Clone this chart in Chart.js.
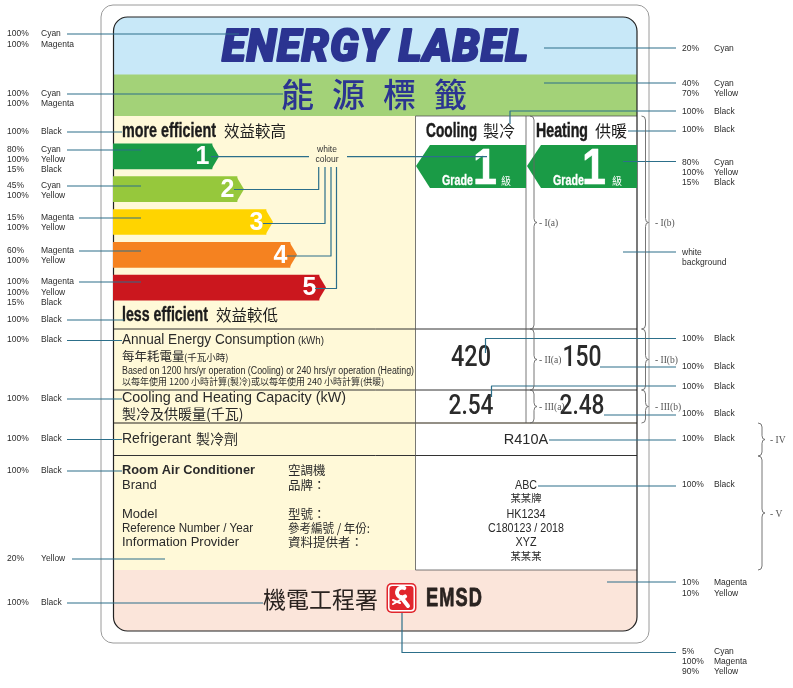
<!DOCTYPE html>
<html>
<head>
<meta charset="utf-8">
<title>Energy Label</title>
<script src="https://cdn.jsdelivr.net/npm/chart.js@4"></script>
<style>
  html, body { margin: 0; padding: 0; background: #fff; }
  #wrap { width: 793px; height: 688px; }
</style>
</head>
<body>
<div id="wrap"><canvas id="label" width="793" height="688"></canvas></div>
<script>
// grade arrows on the label
const grades = ['1', '2', '3', '4', '5'];
const gradeLengths = [99, 124, 153, 177, 206];
const gradeColours = ['#1a9b46', '#96c83c', '#ffd400', '#f58220', '#cb171e'];

// figures printed on the label
const consumption = ['420', '150'];
const capacity = ['2.54', '2.48'];
const refrigerant = 'R410A';
const infoEn = ['Brand', 'Model', 'Reference Number / Year', 'Information Provider'];
const infoZh = ['品牌：', '型號：', '參考編號 / 年份:', '資料提供者：'];
const infoValues = ['ABC', '某某牌', 'HK1234', 'C180123 / 2018', 'XYZ', '某某某'];
const infoWidths = [22, 31, 39, 76, 21, 31];

// colour callouts: [y, percent, ink] down each margin
const leftNotes = [
  [34, '100%', 'Cyan'], [44.5, '100%', 'Magenta'],
  [94, '100%', 'Cyan'], [104, '100%', 'Magenta'],
  [132, '100%', 'Black'],
  [150, '80%', 'Cyan'], [160, '100%', 'Yellow'], [170, '15%', 'Black'],
  [186, '45%', 'Cyan'], [196, '100%', 'Yellow'],
  [218, '15%', 'Magenta'], [228, '100%', 'Yellow'],
  [251, '60%', 'Magenta'], [261, '100%', 'Yellow'],
  [282, '100%', 'Magenta'], [293, '100%', 'Yellow'], [303, '15%', 'Black'],
  [320, '100%', 'Black'], [340, '100%', 'Black'], [399, '100%', 'Black'],
  [439, '100%', 'Black'], [470.5, '100%', 'Black'],
  [558.5, '20%', 'Yellow'], [603, '100%', 'Black']
];
const rightNotes = [
  [49, '20%', 'Cyan'],
  [84, '40%', 'Cyan'], [94, '70%', 'Yellow'],
  [111.5, '100%', 'Black'], [130, '100%', 'Black'],
  [163, '80%', 'Cyan'], [173, '100%', 'Yellow'], [183, '15%', 'Black'],
  [339, '100%', 'Black'], [366.5, '100%', 'Black'], [386.5, '100%', 'Black'],
  [414, '100%', 'Black'], [439, '100%', 'Black'], [485, '100%', 'Black'],
  [583, '10%', 'Magenta'], [593.5, '10%', 'Yellow'],
  [651.5, '5%', 'Cyan'], [662, '100%', 'Magenta'], [672, '90%', 'Yellow']
];

// leader lines, each one a polyline
const leaders = [
  [[67, 34], [239, 34]], [[67, 94], [283, 94]], [[67, 132], [122, 132]],
  [[67, 150], [141, 150]], [[67, 186], [141, 186]], [[79, 218], [141, 218]],
  [[79, 251], [141, 251]], [[79, 282], [141, 282]], [[67, 320], [124, 320]],
  [[67, 340.5], [122, 340.5]], [[67, 399], [122, 399]], [[67, 439.5], [122, 439.5]],
  [[67, 471], [122, 471]], [[72, 559], [165, 559]], [[67, 603], [263, 603]],
  [[544, 48], [676, 48]], [[544, 83], [676, 83]], [[510, 124], [510, 111], [676, 111]],
  [[628, 131], [676, 131]], [[623, 161.5], [676, 161.5]], [[623, 252], [676, 252]],
  [[485.5, 353], [485.5, 338.5], [676, 338.5]], [[600, 367], [676, 367]],
  [[491.5, 397], [491.5, 386], [676, 386]], [[604, 415], [676, 415]],
  [[549, 440], [676, 440]], [[538, 486], [676, 486]], [[607, 582], [676, 582]],
  [[402, 613], [402, 652.5], [676, 652.5]],
  [[211, 156.7], [309, 156.7]], [[347, 156.7], [487, 156.7]],
  [[318.7, 167], [318.7, 189.5], [234, 189.5]], [[325, 167], [325, 223.5], [263, 223.5]],
  [[331, 167], [331, 256], [287, 256]], [[336.5, 167], [336.5, 288.5], [315, 288.5]]
];

// curly brackets: [x, top, bottom, caption, caption x]
const brackets = [
  [534, 116, 329, '- I(a)', 539], [645.5, 116, 329, '- I(b)', 655],
  [534, 329, 390, '- II(a)', 539], [645.5, 329, 390, '- II(b)', 655],
  [534, 390, 423, '- III(a)', 539], [645.5, 390, 423, '- III(b)', 655],
  [762, 423, 456, '- IV', 770], [762, 456, 570, '- V', 770]
];

const SANS = '"Liberation Sans", Arial, sans-serif';
const CJK = '"Noto Sans CJK TC", sans-serif';
const SERIF = '"Liberation Serif", serif';
const INK = '#2a2a2a';

function text(ctx, str, x, y, font, colour, align, maxWidth) {
  ctx.font = font;
  ctx.fillStyle = colour || INK;
  ctx.textAlign = align || 'left';
  ctx.textBaseline = 'middle';
  if (maxWidth) ctx.fillText(str, x, y, maxWidth);
  else ctx.fillText(str, x, y);
}

// same as text() but thickened with an outline, for the heavy lettering
function heavy(ctx, str, x, y, font, colour, align, maxWidth, weight) {
  text(ctx, str, x, y, font, colour, align, maxWidth);
  ctx.strokeStyle = colour || INK;
  ctx.lineWidth = weight || 0.6;
  ctx.lineJoin = 'round';
  if (maxWidth) ctx.strokeText(str, x, y, maxWidth);
  else ctx.strokeText(str, x, y);
}

function roundPath(ctx, x, y, w, h, r) {
  ctx.beginPath();
  ctx.roundRect(x, y, w, h, r);
}

function hline(ctx, x1, x2, y, width) {
  ctx.lineWidth = width || 1;
  ctx.beginPath();
  ctx.moveTo(x1, y);
  ctx.lineTo(x2, y);
  ctx.stroke();
}

function vline(ctx, x, y1, y2, width) {
  ctx.lineWidth = width || 1;
  ctx.beginPath();
  ctx.moveTo(x, y1);
  ctx.lineTo(x, y2);
  ctx.stroke();
}

function chevron(ctx, tip, start, end) {
  ctx.fillStyle = '#1a9b46';
  ctx.beginPath();
  ctx.moveTo(tip, 166);
  ctx.lineTo(start, 145);
  ctx.lineTo(end, 145);
  ctx.lineTo(end, 188);
  ctx.lineTo(start, 188);
  ctx.closePath();
  ctx.fill();
}

function bracket(ctx, x, top, bottom) {
  const mid = (top + bottom) / 2;
  ctx.strokeStyle = '#666';
  ctx.lineWidth = 0.9;
  ctx.beginPath();
  ctx.moveTo(x - 4, top);
  ctx.quadraticCurveTo(x, top, x, top + 4);
  ctx.lineTo(x, mid - 4);
  ctx.quadraticCurveTo(x, mid, x + 3, mid);
  ctx.quadraticCurveTo(x, mid, x, mid + 4);
  ctx.lineTo(x, bottom - 4);
  ctx.quadraticCurveTo(x, bottom, x - 4, bottom);
  ctx.stroke();
}

function logo(ctx) {
  ctx.fillStyle = '#e1262d';
  roundPath(ctx, 386.5, 583, 30, 30, 5);
  ctx.fill();
  ctx.fillStyle = '#fff';
  roundPath(ctx, 388, 584.5, 27, 27, 4);
  ctx.fill();
  ctx.fillStyle = '#e1262d';
  roundPath(ctx, 389.5, 586, 24, 24, 3);
  ctx.fill();
  // spanner and bolt
  ctx.strokeStyle = '#fff';
  ctx.lineCap = 'round';
  ctx.lineWidth = 4;
  ctx.beginPath();
  ctx.moveTo(408, 606);
  ctx.lineTo(401, 597);
  ctx.stroke();
  ctx.beginPath();
  ctx.arc(402, 592.5, 5, 0.9, 5.2);
  ctx.stroke();
  ctx.lineWidth = 2;
  ctx.beginPath();
  ctx.moveTo(393, 600);
  ctx.lineTo(400, 603);
  ctx.moveTo(393, 604);
  ctx.lineTo(400, 600);
  ctx.stroke();
  ctx.lineCap = 'butt';
}

const labelBackground = {
  id: 'labelBackground',
  beforeDatasetsDraw(chart) {
    const ctx = chart.ctx;
    ctx.save();

    ctx.strokeStyle = '#9a9a9a';
    ctx.lineWidth = 1;
    roundPath(ctx, 101, 5, 548, 638, 12);
    ctx.stroke();

    ctx.save();
    roundPath(ctx, 113.5, 17, 523.5, 614, 14);
    ctx.clip();
    ctx.fillStyle = '#c8e8f8';
    ctx.fillRect(113, 17, 525, 58);
    ctx.fillStyle = '#a3d278';
    ctx.fillRect(113, 74.5, 525, 41.5);
    ctx.fillStyle = '#fff9d8';
    ctx.fillRect(113, 116, 303, 454);
    ctx.fillStyle = '#fff';
    ctx.fillRect(415.5, 116, 222, 454);
    ctx.fillStyle = '#fbe5da';
    ctx.fillRect(113, 570, 525, 62);
    ctx.restore();

    ctx.strokeStyle = '#333';
    hline(ctx, 113.5, 637, 329, 1);
    hline(ctx, 113.5, 637, 390, 1);
    ctx.strokeStyle = '#6f6a5e';
    hline(ctx, 113.5, 637, 423, 1.6);
    ctx.strokeStyle = '#333';
    hline(ctx, 113.5, 637, 455.5, 1);
    ctx.strokeStyle = '#555';
    hline(ctx, 415.5, 637, 116, 0.8);
    vline(ctx, 415.5, 116, 570, 0.8);
    vline(ctx, 526, 116, 423, 0.8);
    hline(ctx, 415.5, 637, 570, 0.8);

    ctx.strokeStyle = '#222';
    ctx.lineWidth = 1.2;
    roundPath(ctx, 113.5, 17, 523.5, 614, 14);
    ctx.stroke();

    chevron(ctx, 416, 430, 526);
    chevron(ctx, 527, 541, 637);
    ctx.restore();
  }
};

const labelForeground = {
  id: 'labelForeground',
  afterDatasetsDraw(chart) {
    const ctx = chart.ctx;
    ctx.save();

    // arrow heads and numbers on the grade bars
    chart.getDatasetMeta(0).data.forEach((bar, i) => {
      const half = bar.height / 2;
      ctx.fillStyle = gradeColours[i];
      ctx.beginPath();
      ctx.moveTo(bar.x - 0.5, bar.y - half);
      ctx.lineTo(bar.x + 7, bar.y);
      ctx.lineTo(bar.x - 0.5, bar.y + half);
      ctx.closePath();
      ctx.fill();
      text(ctx, grades[i], bar.x - 2.5, bar.y + 1, 'bold 25px ' + SANS, '#fff', 'right');
    });

    // title band
    ctx.letterSpacing = '1px';
    heavy(ctx, 'ENERGY LABEL', 222, 50, 'italic 900 44px Roboto, ' + SANS, '#2b3491', 'left', 307, 2);
    ctx.letterSpacing = '18px';
    text(ctx, '能源標籤', 281, 94, '500 33px ' + CJK, '#2b3491');
    ctx.letterSpacing = '0px';

    // left column headings
    heavy(ctx, 'more efficient', 122, 131, 'bold 20px ' + SANS, '#1c1c1c', 'left', 94, 0.4);
    text(ctx, '效益較高', 224, 131, '15.5px ' + CJK, '#1c1c1c');
    heavy(ctx, 'less efficient', 122, 315, 'bold 20px ' + SANS, '#1c1c1c', 'left', 86, 0.4);
    text(ctx, '效益較低', 216, 315, '15.5px ' + CJK, '#1c1c1c');
    text(ctx, 'Annual Energy Consumption', 122, 340, '15.5px ' + SANS, INK, 'left', 173);
    text(ctx, '(kWh)', 298, 341, '10.5px ' + SANS, INK, 'left', 26);
    text(ctx, '每年耗電量', 122, 356, '12.5px ' + CJK);
    text(ctx, '(千瓦小時)', 184, 357, '9.5px ' + CJK);
    text(ctx, 'Based on 1200 hrs/yr operation (Cooling) or 240 hrs/yr operation (Heating)', 122, 371, '10px ' + SANS, INK, 'left', 292);
    text(ctx, '以每年使用 1200 小時計算(製冷)或以每年使用 240 小時計算(供暖)', 122, 381.5, '9px ' + CJK, INK, 'left', 270);
    text(ctx, 'Cooling and Heating Capacity (kW)', 122, 398, '15px ' + SANS, INK, 'left', 224);
    text(ctx, '製冷及供暖量(千瓦)', 122, 414, '14px ' + CJK, INK, 'left', 129);
    text(ctx, 'Refrigerant', 122, 439, '14px ' + SANS, INK, 'left', 71);
    text(ctx, '製冷劑', 196, 439, '14px ' + CJK);
    text(ctx, 'Room Air Conditioner', 122, 470.5, 'bold 13px ' + SANS, INK, 'left', 133);
    text(ctx, '空調機', 288, 470.5, '12.5px ' + CJK);
    [485, 514, 528, 542].forEach((y, i) => {
      text(ctx, infoEn[i], 122, y, '13px ' + SANS, INK, 'left', 131);
      text(ctx, infoZh[i], 288, y, '12.5px ' + CJK, INK, 'left', 82);
    });

    // heads of the white columns
    heavy(ctx, 'Cooling', 426, 131, 'bold 21px ' + SANS, '#1c1c1c', 'left', 51, 0.5);
    text(ctx, '製冷', 483, 131, '16px ' + CJK, '#1c1c1c');
    heavy(ctx, 'Heating', 536, 131, 'bold 21px ' + SANS, '#1c1c1c', 'left', 52, 0.5);
    text(ctx, '供暖', 595, 131, '16px ' + CJK, '#1c1c1c');
    [[485, 442, 501], [594, 553, 612]].forEach(([one, word, ji]) => {
      heavy(ctx, '1', one, 170.5, 'bold 50px ' + SANS, '#fff', 'center', 24, 0.5);
      heavy(ctx, 'Grade', word, 180.5, 'bold 15px ' + SANS, '#fff', 'left', 31, 0.3);
      text(ctx, '級', ji, 181, '10px ' + CJK, '#fff');
    });

    // values
    text(ctx, consumption[0], 471, 359, '500 29px Roboto, ' + SANS, INK, 'center', 40);
    text(ctx, consumption[1], 582, 359, '500 29px Roboto, ' + SANS, INK, 'center', 39);
    text(ctx, capacity[0], 471, 407, '500 28px Roboto, ' + SANS, INK, 'center', 45);
    text(ctx, capacity[1], 582, 407, '500 28px Roboto, ' + SANS, INK, 'center', 45);
    text(ctx, refrigerant, 526, 439.5, '14.5px ' + SANS, INK, 'center');
    [485, 498, 514, 528, 542, 556].forEach((y, i) => {
      const isZh = i === 1 || i === 5;
      text(ctx, infoValues[i], 526, y, isZh ? '10.5px ' + CJK : '13.5px ' + SANS, INK, 'center', infoWidths[i]);
    });

    // footer band
    text(ctx, '機電工程署', 263, 599, '23px ' + CJK, '#2a2320');
    logo(ctx);
    ctx.letterSpacing = '1.5px';
    heavy(ctx, 'EMSD', 426, 599, 'bold 25px ' + SANS, '#2a2320', 'left', 57, 0.8);
    ctx.letterSpacing = '0px';

    // leader lines sit on top of the label
    ctx.strokeStyle = '#2c6f8a';
    ctx.lineWidth = 1.2;
    leaders.forEach(points => {
      ctx.beginPath();
      points.forEach(([x, y], i) => (i ? ctx.lineTo(x, y) : ctx.moveTo(x, y)));
      ctx.stroke();
    });

    text(ctx, 'white', 327, 150, '8.5px ' + SANS, '#333', 'center');
    text(ctx, 'colour', 327, 160, '8.5px ' + SANS, '#333', 'center');

    // margin notes
    const noteFont = '8.5px ' + SANS;
    leftNotes.forEach(([y, pct, ink]) => {
      text(ctx, pct, 7, y, noteFont, '#2c2c2c');
      text(ctx, ink, 41, y, noteFont, '#2c2c2c');
    });
    rightNotes.forEach(([y, pct, ink]) => {
      text(ctx, pct, 682, y, noteFont, '#2c2c2c');
      text(ctx, ink, 714, y, noteFont, '#2c2c2c');
    });
    text(ctx, 'white', 682, 253, noteFont, '#2c2c2c');
    text(ctx, 'background', 682, 263, noteFont, '#2c2c2c');

    brackets.forEach(([x, top, bottom, caption, captionX]) => {
      bracket(ctx, x, top, bottom);
      text(ctx, caption, captionX, (top + bottom) / 2 + 1, '9.5px ' + SERIF, '#555');
    });

    ctx.restore();
  }
};

new Chart(document.getElementById('label'), {
  type: 'bar',
  data: {
    labels: grades,
    datasets: [{
      data: gradeLengths,
      backgroundColor: gradeColours,
      borderWidth: 0,
      barThickness: 25
    }]
  },
  options: {
    indexAxis: 'y',
    responsive: false,
    animation: false,
    devicePixelRatio: 1,
    layout: { padding: { left: 113, right: 156, top: 140, bottom: 384 } },
    scales: {
      x: { display: false, min: 0, max: 524 },
      y: { display: false }
    },
    plugins: {
      legend: { display: false },
      title: { display: false },
      tooltip: { enabled: false }
    }
  },
  plugins: [labelBackground, labelForeground]
});
</script>
</body>
</html>
